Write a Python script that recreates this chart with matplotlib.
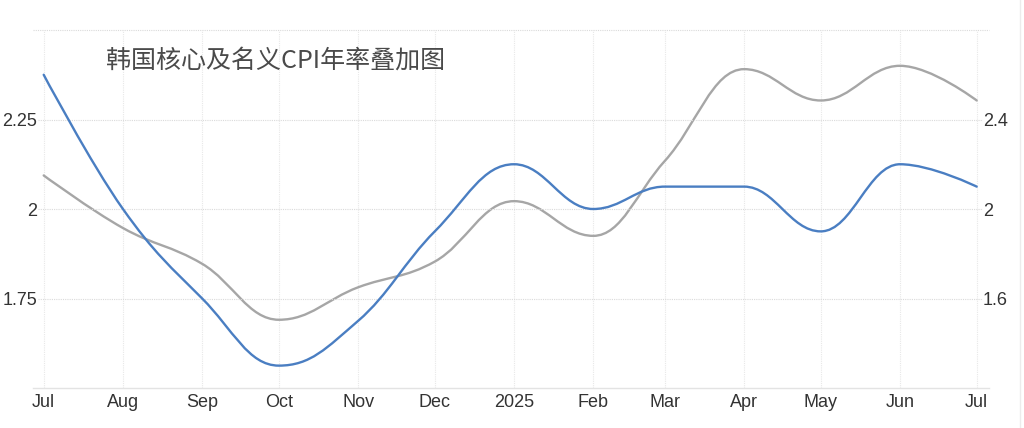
import datetime as dt
import matplotlib
matplotlib.use("Agg")
import matplotlib.pyplot as plt
import matplotlib.dates as mdates
from matplotlib.path import Path
from matplotlib.patches import PathPatch
from matplotlib.lines import Line2D

plt.rcParams['font.family'] = ['Liberation Sans', 'Noto Sans CJK SC', 'DejaVu Sans']

TITLE = "韩国核心及名义CPI年率叠加图"

# monthly points, Jul 2024 .. Jul 2025
months = ["2024-07-01", "2024-08-01", "2024-09-01", "2024-10-01", "2024-11-01",
          "2024-12-01", "2025-01-01", "2025-02-01", "2025-03-01", "2025-04-01",
          "2025-05-01", "2025-06-01", "2025-07-01"]
month_labels = ["Jul", "Aug", "Sep", "Oct", "Nov", "Dec", "2025",
                "Feb", "Mar", "Apr", "May", "Jun", "Jul"]

# blue series, left axis
nominal = [2.375, 2.0, 1.75, 1.5625, 1.6875, 1.9375, 2.125,
           2.0, 2.0625, 2.0625, 1.9375, 2.125, 2.0625]
# gray series, right axis
core = [2.15, 1.915, 1.755, 1.505, 1.65, 1.765, 2.035,
        1.88, 2.215, 2.625, 2.485, 2.64, 2.485]

left_ticks = [1.75, 2, 2.25]
left_labels = ["1.75", "2", "2.25"]
right_ticks = [1.6, 2, 2.4]
right_labels = ["1.6", "2", "2.4"]

BLUE = "#4a7ec2"
GRAY = "#a6a6a6"
GRID = "#dadada"
TXT = "#333333"


def spline_path(xs, ys, smoothing=1.5):
    # highcharts style spline: bezier control points around each point
    n = len(xs)
    lc = [(x, y) for x, y in zip(xs, ys)]
    rc = [(x, y) for x, y in zip(xs, ys)]
    d = smoothing + 1
    for i in range(1, n - 1):
        px, py = xs[i], ys[i]
        lx, ly = xs[i - 1], ys[i - 1]
        nx, ny = xs[i + 1], ys[i + 1]
        lcx = (smoothing * px + lx) / d
        lcy = (smoothing * py + ly) / d
        rcx = (smoothing * px + nx) / d
        rcy = (smoothing * py + ny) / d
        corr = 0
        if rcx != lcx:
            corr = (rcy - lcy) * (rcx - px) / (rcx - lcx) + py - rcy
        lcy += corr
        rcy += corr
        if lcy > ly and lcy > py:
            lcy = max(ly, py)
            rcy = 2 * py - lcy
        elif lcy < ly and lcy < py:
            lcy = min(ly, py)
            rcy = 2 * py - lcy
        if rcy > ny and rcy > py:
            rcy = max(ny, py)
            lcy = 2 * py - rcy
        elif rcy < ny and rcy < py:
            rcy = min(ny, py)
            lcy = 2 * py - rcy
        lc[i] = (lcx, lcy)
        rc[i] = (rcx, rcy)
    verts = [(xs[0], ys[0])]
    codes = [Path.MOVETO]
    for i in range(1, n):
        verts += [rc[i - 1], lc[i], (xs[i], ys[i])]
        codes += [Path.CURVE4] * 3
    return Path(verts, codes)


dates = [dt.datetime.strptime(m, "%Y-%m-%d") for m in months]
xnum = mdates.date2num(dates)

W, H = 1024, 428
fig = plt.figure(figsize=(W / 100, H / 100), dpi=100)
fig.patch.set_facecolor("white")

x0, x1, y0, y1 = 38, 983, 30, 388
ax = fig.add_axes([x0 / W, 1 - y1 / H, (x1 - x0) / W, (y1 - y0) / H])
ax2 = ax.twinx()
# blue on top, grid + gray underneath
ax.set_zorder(ax2.get_zorder() + 1)
ax.patch.set_visible(False)
ax2.patch.set_visible(False)

px_per_day = (976.7 - 43.7) / (xnum[-1] - xnum[0])
ax.set_xlim(xnum[0] - (43.7 - x0) / px_per_day, xnum[-1] + (x1 - 976.7) / px_per_day)
ax.set_ylim(1.5, 2.5)
ax2.set_ylim(1.2, 2.8)

ax2.add_patch(PathPatch(spline_path(xnum, core), fill=False, edgecolor=GRAY,
                        linewidth=1.7, capstyle="round", joinstyle="round"))
ax.add_patch(PathPatch(spline_path(xnum, nominal), fill=False, edgecolor=BLUE,
                       linewidth=1.7, capstyle="round", joinstyle="round"))

ax.set_xticks(xnum)
ax.set_xticklabels(month_labels)
ax.set_yticks(left_ticks)
ax.set_yticklabels(left_labels)
ax2.set_yticks(right_ticks)
ax2.set_yticklabels(right_labels)

ax.tick_params(axis="x", length=0, pad=4.5, labelsize=13, labelcolor=TXT)
ax.tick_params(axis="y", length=0, pad=0.8, labelsize=13, labelcolor=TXT)
ax2.tick_params(axis="y", length=0, pad=0, labelsize=13, labelcolor=TXT)

for a in (ax, ax2):
    for s in a.spines.values():
        s.set_visible(False)

# grid drawn on lower axes
ax2.grid(axis="y", color=GRID, linestyle=(0, (1, 1)), linewidth=0.8)
for xv in xnum:
    ax2.axvline(xv, color="#e8e8e8", linestyle=(0, (1, 1)), linewidth=0.8, zorder=0)

# top dotted line and bottom axis line, a bit wider than the plot area
ext = [Line2D([33 / W, 989 / W], [1 - y0 / H, 1 - y0 / H], color=GRID,
              linestyle=(0, (1, 1)), linewidth=0.8),
       Line2D([33 / W, 989 / W], [1 - y1 / H, 1 - y1 / H], color="#e3e3e3",
              linewidth=1.0),
       Line2D([1020 / W, 1020 / W], [0, 1], color="#ececec", linewidth=1.0)]
for ln in ext:
    fig.add_artist(ln)

fig.text(106 / W, 1 - 61 / H, TITLE, ha="left", va="center", fontsize=18,
         color="#4a4a4a", family=["Noto Sans CJK SC", "DejaVu Sans"])

fig.savefig("out.png", dpi=100, facecolor="white")
